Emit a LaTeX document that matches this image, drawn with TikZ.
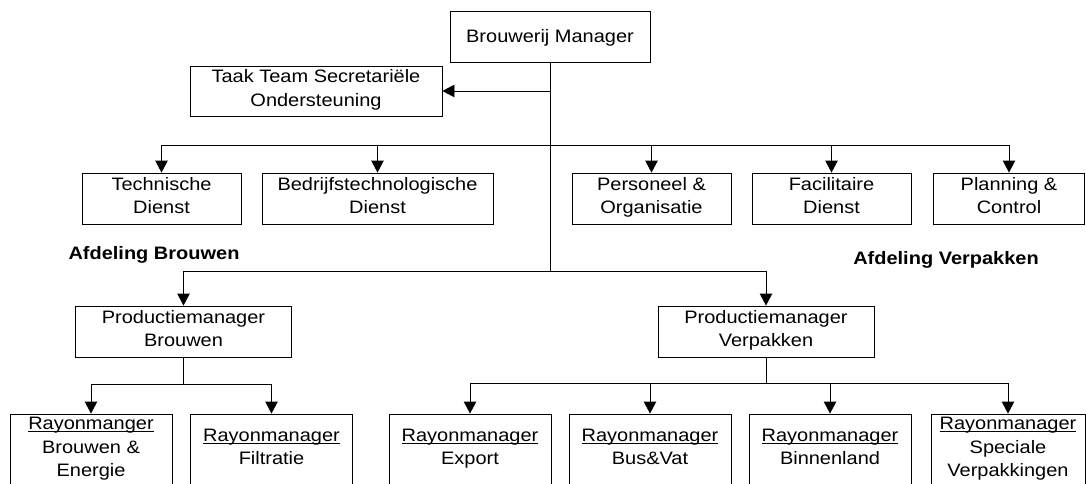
\documentclass[tikz,border=0pt]{standalone}
\usepackage{fontspec}
\setmainfont{Liberation Sans}[FakeStretch=1.11]
\usetikzlibrary{arrows.meta}

\newcommand{\onder}[1]{\setbox0=\hbox{#1}\rlap{\rule[-2.2pt]{\wd0}{0.9pt}}\box0}
\newcommand{\regel}{\rule[-6pt]{0pt}{23.5pt}}

\tikzset{orgbox/.style={draw,align=center,inner sep=0pt,
         font=\fontsize{18}{23.5}\selectfont,
         execute at begin node=\regel,execute at end node=\regel}}

\begin{document}
\begin{tikzpicture}[x=1pt,y=-1pt,line width=0.9pt]
\useasboundingbox (0,0) rectangle (1086,483);
\clip (0,0) rectangle (1086,483);

\begin{scope}[every node/.style={orgbox,minimum height=51pt}]
    \node[minimum width=200pt] (mgr)  at (550,37)    {Brouwerij Manager};
    \node[minimum width=252pt,minimum height=50pt]
                               (taak) at (316,91)    {Taak Team Secretariële\\Ondersteuning};
    \node[minimum width=159pt] (tech) at (161.5,198.5) {Technische\\Dienst};
    \node[minimum width=231pt] (bedr) at (377.5,198.5) {Bedrijfstechnologische\\Dienst};
    \node[minimum width=159pt] (pers) at (651.5,198.5) {Personeel \&\\Organisatie};
    \node[minimum width=159pt] (faci) at (831.5,198.5) {Facilitaire\\Dienst};
    \node[minimum width=151pt] (plan) at (1009,198.5)  {Planning \&\\Control};
    \node[minimum width=216pt] (pmb)  at (183.5,331.5) {Productiemanager\\Brouwen};
    \node[minimum width=216pt] (pmv)  at (766,331.5)   {Productiemanager\\Verpakken};
\end{scope}

\begin{scope}[every node/.style={orgbox,minimum height=72pt,minimum width=162pt}]
    \node (rbe) at (91,450)    {\onder{Rayonmanger}\\Brouwen \&\\Energie};
    \node (rfi) at (271.5,450) {\onder{Rayonmanager}\\Filtratie};
    \node (rex) at (470,450)   {\onder{Rayonmanager}\\Export};
    \node (rbv) at (650,450)   {\onder{Rayonmanager}\\Bus\&Vat};
    \node (rbi) at (830,450)   {\onder{Rayonmanager}\\Binnenland};
    \node[minimum width=154pt] (rsv) at (1008,450) {\onder{Rayonmanager}\\Speciale\\Verpakkingen};
\end{scope}

\node[font=\fontsize{18}{23.5}\selectfont\bfseries,anchor=base] (afdb) at (154,259) {Afdeling Brouwen};
\node[font=\fontsize{18}{23.5}\selectfont\bfseries,anchor=base] (afdv) at (946,264) {Afdeling Verpakken};

\coordinate (tak)  at (550,91);
\coordinate (staf) at (550,145);
\coordinate (prod) at (550,271);
\coordinate (brw)  at (183.5,384);
\coordinate (vpk)  at (766,383);

\begin{scope}[>={Triangle[length=12pt,width=12.5pt]}]
    \draw (mgr) -- (prod);
    \draw [->] (tak) -- (taak);
    \draw [->] (staf) -| (tech);
    \draw [->] (staf) -| (bedr);
    \draw [->] (staf) -| (pers);
    \draw [->] (staf) -| (faci);
    \draw [->] (staf) -| (plan);
    \draw [->] (prod) -| (pmb);
    \draw [->] (prod) -| (pmv);
    \draw (pmb) -- (brw);
    \draw [->] (brw) -| (rbe);
    \draw [->] (brw) -| (rfi);
    \draw (pmv) -- (vpk);
    \draw [->] (vpk) -| (rex);
    \draw [->] (vpk) -| (rbv);
    \draw [->] (vpk) -| (rbi);
    \draw [->] (vpk) -| (rsv);
\end{scope}
\end{tikzpicture}
\end{document}
